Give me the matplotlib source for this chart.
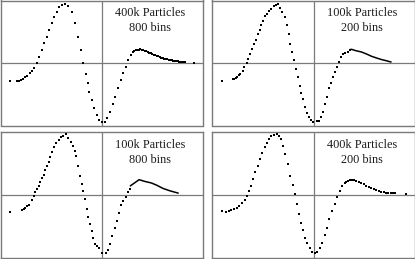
import matplotlib
matplotlib.use("Agg")
import matplotlib.pyplot as plt

# ---- data (arbitrary units, origin at the axis crossing) ----
tl_x = [-92, -85, -83, -81, -79, -77, -75, -72, -70, -68, -65, -63, -60, -58, -55, -53, -50, -48, -45, -43,
        -40, -37, -34, -30, -27, -24, -21, -19, -16, -14, -13, -10, -8, -5, -3, 0, 3, 5, 8, 11,
        13, 16, 19, 21, 24, 26, 29, 31, 32.5, 34, 35.5, 37, 38.5, 40, 41.5, 43, 44.5, 46, 47.5, 49,
        50.5, 52, 53.5, 55, 56.5, 58, 59.5, 61, 62.5, 64, 65.5, 67, 68.5, 70, 71.5, 73, 74.5, 76, 77.5, 79,
        80.5, 82, 83, 92]
tl_y = [-18, -18, -17.5, -17, -15.5, -14, -13, -10, -8, -5, 0, 6, 13, 20, 26, 33, 40, 46, 51, 56,
        58, 59, 57, 51, 40, 26, 13, 0, -11, -20, -29, -37, -45, -52, -57, -59, -59, -55, -49, -41,
        -34, -25, -17, -10, -4, 3, 8, 11, 12, 12.8, 13.3, 13.7, 14, 13.8, 13.3, 12.5, 11.8, 11, 10.4, 9.8,
        9.2, 8.6, 8, 7.4, 6.8, 6.2, 5.7, 5.2, 4.7, 4.3, 3.9, 3.6, 3.3, 3, 2.7, 2.4, 2.1, 1.8, 1.5, 1.3,
        1.1, 1.0, 0.9, 0.5]

tr_x = [-92, -81, -79.5, -78, -76.7, -75, -73.3, -71, -69.3, -67, -65.3, -63.3, -61.7, -60, -58, -56, -54, -52.3, -50.3, -48.7,
        -46.7, -44.7, -42.7, -40, -37.7, -35.3, -33.3, -31.3, -28.7, -26.7, -24.7, -23.3, -21.3, -19.3, -17.3, -15.3, -14, -12.7, -10.7, -8.7,
        -6.7, -4.3, -2.7, -0.3, 3, 5.3, 7.3, 9.7, 11.3, 13.3, 15.3, 17.3, 19.3, 21.3, 23.3, 25.3, 27.3, 29.7, 31.3, 34,
        36.7]
tr_y = [-17.7, -16.3, -15.5, -14.7, -14, -12.3, -11, -7.7, -3.7, 0.3, 4.3, 9.7, 14.7, 19.7, 23.7, 29.7, 33.7, 38, 42.3, 47,
        49.7, 52.3, 54.7, 57, 58.3, 59.7, 55.7, 51.3, 46.3, 38, 29, 19.7, 11.3, 3.7, -5.3, -13.7, -23, -29.7, -36.3, -43.7,
        -49.7, -53.7, -57, -58.7, -57.7, -57.7, -53.7, -48.7, -41, -33.7, -25.3, -19.7, -14.3, -8.7, -3.7, 1.3, 6.3, 9.7, 10.3, 11.3,
        13.7]
tr_line_x = [36.7, 38, 42, 48, 53, 58, 63, 68, 73, 77.3]
tr_line_y = [13.7, 14, 12.7, 11.3, 9.3, 7, 5.3, 3.7, 2.5, 1.3]

bl_x = [-92, -80.3, -78.7, -77, -75.3, -73.7, -70.3, -68.7, -67, -65.3, -63.7, -62, -60.3, -58.7, -57, -55.3, -53.7, -52, -50.3, -48,
        -46, -43.7, -41.3, -38.7, -36, -33.7, -31.3, -29.3, -27, -26, -23.7, -22, -20.3, -18.7, -17, -15.3, -13.7, -12, -10.3, -8.7,
        -7, -5.3, -3.3, -0.3, 3.7, 6, 8, 10.3, 12.7, 14.7, 17, 19.3, 21.3, 23.7, 26, 28]
bl_y = [-17, -15.3, -14.3, -13, -11.7, -10.3, -5, -1.7, 2.3, 5.7, 9, 12.3, 16.3, 19.7, 24.7, 29, 33, 37.3, 42.3, 47.3,
        51.7, 55, 57.3, 59, 60.3, 56.3, 52.3, 49, 44, 39, 28.3, 18.3, 10.7, 4, -4.3, -13.7, -21.7, -29.3, -36, -42.7,
        -49.3, -51, -52.7, -57.7, -57.7, -55, -49.3, -41, -32.7, -26, -17.7, -10.3, -6, -2.7, 2.3, 5.7]
bl_line_x = [28.7, 37.3, 43, 49.7, 55, 61.3, 68, 76.3]
bl_line_y = [9, 15, 13.3, 11.7, 9.5, 6.3, 4, 1.7]

br_x = [-91.7, -87.3, -85, -82.3, -79.7, -77, -74.3, -71.7, -69, -67, -65, -63, -60.7, -58.3, -55.7, -53.7, -51.3, -49, -47, -44.7,
        -42.3, -39.7, -37, -35, -33, -30.7, -28.3, -25.7, -23.3, -20.7, -18.3, -16.3, -14.3, -12.3, -10.3, -8.3, -6.3, -4, -1.7, 1,
        3.7, 6, 8.3, 11, 13, 15.7, 18.3, 21, 23.7, 26, 28.3, 31, 32.5, 34.3, 36, 38.3, 40.5, 42.7, 45, 47.7,
        50, 52.7, 55, 57.7, 60, 62.7, 65, 67.7, 70, 72, 74.3, 77, 79, 81, 92.7]
br_y = [-16, -17, -16.3, -15.3, -14.3, -12.7, -11, -8.3, -5, -1, 4, 9, 15.7, 22.3, 29, 35.7, 41.7, 47.3, 51.7, 55.7,
        58.3, 60, 60.7, 59, 55.7, 49, 40.7, 30.7, 19, 9.7, 0.7, -9.3, -19.3, -27.7, -35, -42.7, -47.7, -52.7, -57, -58.3,
        -57, -52.7, -47.7, -40.3, -32.7, -24.3, -16, -9.3, -2.7, 4, 8.3, 11.7, 13, 14, 14.5, 14.7, 14.3, 13.7, 12.8, 11.7,
        10.4, 9, 7.7, 6.3, 5.4, 4.7, 3.8, 3, 2.5, 2.1, 1.7, 1.4, 1.3, 1.3, 1]

labels = [("400k Particles", "800 bins"), ("100k Particles", "200 bins"),
          ("100k Particles", "800 bins"), ("400k Particles", "200 bins")]

W, H = 415, 259
fig = plt.figure(figsize=(W / 100, H / 100), dpi=100)
fig.patch.set_facecolor("white")

# panel boxes in pixels: (left, right, top, bottom)
boxes = [(0.5, 202.5, 0.5, 125.5), (211.5, 414.5, 0.5, 125.5),
         (0.5, 202.5, 131.5, 257.5), (211.5, 414.5, 131.5, 257.5)]

series = [(tl_x, tl_y, None, None), (tr_x, tr_y, tr_line_x, tr_line_y),
          (bl_x, bl_y, bl_line_x, bl_line_y), (br_x, br_y, None, None)]

gray = "#7a7a7a"
for (l, r, t, b), (sx, sy, lx, ly), (t1, t2) in zip(boxes, series, labels):
    ax = fig.add_axes([l / W, 1 - b / H, (r - l) / W, (b - t) / H])
    ax.set_xlim(-102, 101)
    ax.set_ylim(-62.5, 63)
    for s in ax.spines.values():
        s.set_color(gray)
        s.set_linewidth(1.0)
    ax.set_xticks([])
    ax.set_yticks([])
    ax.axhline(0, color=gray, lw=0.9, zorder=1)
    ax.axvline(0, color=gray, lw=0.9, zorder=1)
    ax.plot(sx, sy, linestyle="none", marker="s", markersize=1.7,
            markeredgewidth=0, color="black", zorder=3)
    if lx is not None:
        ax.plot(lx, ly, color="black", lw=1.1, zorder=3)
    ax.text(48.5, 50, t1, ha="center", va="center", fontsize=8.8,
            family="Liberation Serif", color="#1a1a1a")
    ax.text(48.5, 35, t2, ha="center", va="center", fontsize=8.8,
            family="Liberation Serif", color="#1a1a1a")

fig.savefig("out.png", dpi=100, facecolor="white")
